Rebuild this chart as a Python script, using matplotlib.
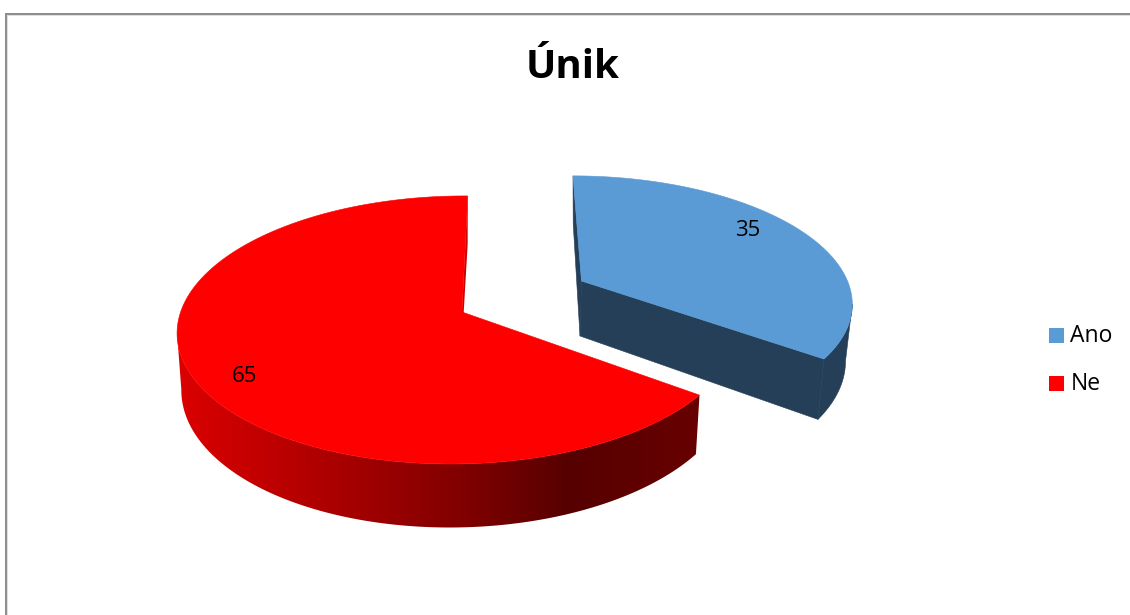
"""3D exploded pie 'Únik', drawn by hand in pixel coordinates."""
import numpy as np
import matplotlib
matplotlib.use('Agg')
import matplotlib.pyplot as plt
from matplotlib.colors import LinearSegmentedColormap
from matplotlib.patches import Polygon, Rectangle

TITLE = 'Únik'
categories = ['Ano', 'Ne']
values = [35, 65]
colors = ['#5b9bd5', '#ff0000']

plt.rcParams['font.family'] = ['Open Sans', 'DejaVu Sans']

# per slice projection: apex, radii, perspective (k back/front, m left/right), lean, wall depth
SLICES = [
    dict(cx=581.5, cy=281, rx=266, ry=121, k=0.151, m=0.0, lean=-9.8, depth=55, shrink=0.975,
         label=(748, 230)),
    dict(cx=462, cy=312, rx=278, ry=131.6, k=0.134, m=0.012, lean=6.5, depth=55, shrink=0.985,
         label=(244, 376)),
]
SIDE_BLUE = '#243f57'
# side shading of the red slice, left to right across the wall
RED_STOPS = [(0.0, '#dc0000'), (0.22, '#b80000'), (0.55, '#800000'), (0.75, '#560000'), (1.0, '#680000')]
red_side = LinearSegmentedColormap.from_list('red_side', RED_STOPS)


def project(s, theta, wall=False):
    # theta in degrees clockwise from the back of the pie
    t = np.deg2rad(theta)
    u, v = np.sin(t), np.cos(t)
    scale = s['shrink'] if wall else 1.0
    drop = s['depth'] if wall else 0.0
    d = 1 + s['k'] * v + s['m'] * u
    x = s['cx'] + scale * (s['rx'] * u + s['lean'] * v) / d
    y = s['cy'] + (-s['ry'] * v + drop) / d
    return np.column_stack([x, y])


def apex(s, wall=False):
    if wall:
        return np.array([[s['cx'] - 1.5, s['cy'] + s['depth']]])
    return np.array([[s['cx'], s['cy']]])


fig = plt.figure(figsize=(11.3, 6.15), dpi=100)
ax = fig.add_axes([0, 0, 1, 1])
ax.axis('off')

# chart frame, only top and left edges are inside the picture
ax.plot([5.5, 5.5, 1130], [615, 13.5, 13.5], color='#848484', lw=1.3, solid_joinstyle='miter')
ax.plot([7, 7, 1130], [615, 15, 15], color='#e0e0e0', lw=0.7, solid_joinstyle='miter')

edges = np.cumsum([0] + values) / sum(values) * 360

for i, (s, col) in enumerate(zip(SLICES, colors)):
    thetas = np.linspace(edges[i], edges[i + 1], 361)
    top = project(s, thetas)
    bottom = project(s, thetas, wall=True)

    # outer wall: from the cut to where each rim reaches its widest point
    if i == 0:
        t_ext, b_ext = np.argmax(top[:, 0]), np.argmax(bottom[:, 0])
        side = np.vstack([top[t_ext:], bottom[b_ext:][::-1]])
        ax.add_patch(Polygon(side, closed=True, fc=SIDE_BLUE, ec=SIDE_BLUE, lw=0.4, zorder=2))
        # walls of the cut
        back = np.vstack([apex(s), top[:1], bottom[:1], apex(s, True)])
        front = np.vstack([apex(s), top[-1:], bottom[-1:], apex(s, True)])
        ax.add_patch(Polygon(back, closed=True, fc=SIDE_BLUE, ec=SIDE_BLUE, lw=0.4, zorder=2))
        ax.add_patch(Polygon(front, closed=True, fc=SIDE_BLUE, ec=SIDE_BLUE, lw=0.4, zorder=2))
    else:
        t_ext, b_ext = np.argmin(top[:, 0]), np.argmin(bottom[:, 0])
        side = np.vstack([top[:t_ext + 1], bottom[:b_ext + 1][::-1]])
        clip = Polygon(side, closed=True, fc='none', ec='none', transform=ax.transData)
        ax.add_patch(clip)
        grad = np.linspace(0, 1, 512).reshape(1, -1)
        im = ax.imshow(grad, cmap=red_side, extent=(175, 702, 540, 190), aspect='auto', zorder=2,
                       interpolation='bilinear')
        im.set_clip_path(clip)
        back = np.vstack([apex(s), top[-1:], bottom[-1:], apex(s, True)])
        ax.add_patch(Polygon(back, closed=True, fc='#c80000', ec='none', zorder=1.5))

    face = np.vstack([apex(s), top])
    ax.add_patch(Polygon(face, closed=True, fc=col, ec=col, lw=0.4, zorder=3))
    ax.text(s['label'][0], s['label'][1], str(values[i]), fontsize=16, color='black',
            ha='center', va='center', zorder=4)

ax.text(573, 68, TITLE, fontsize=29, fontweight='bold', color='black', ha='center', va='center')

# legend
for cat, col, y in zip(categories, colors, [335, 383]):
    ax.add_patch(Rectangle((1049, y - 7.5), 15, 15, fc=col, ec='none'))
    ax.text(1070.5, y + 1, cat, fontsize=16.5, color='black', ha='left', va='center')

ax.set_xlim(0, 1130)
ax.set_ylim(615, 0)
fig.savefig('out.png', dpi=100, facecolor='white')
